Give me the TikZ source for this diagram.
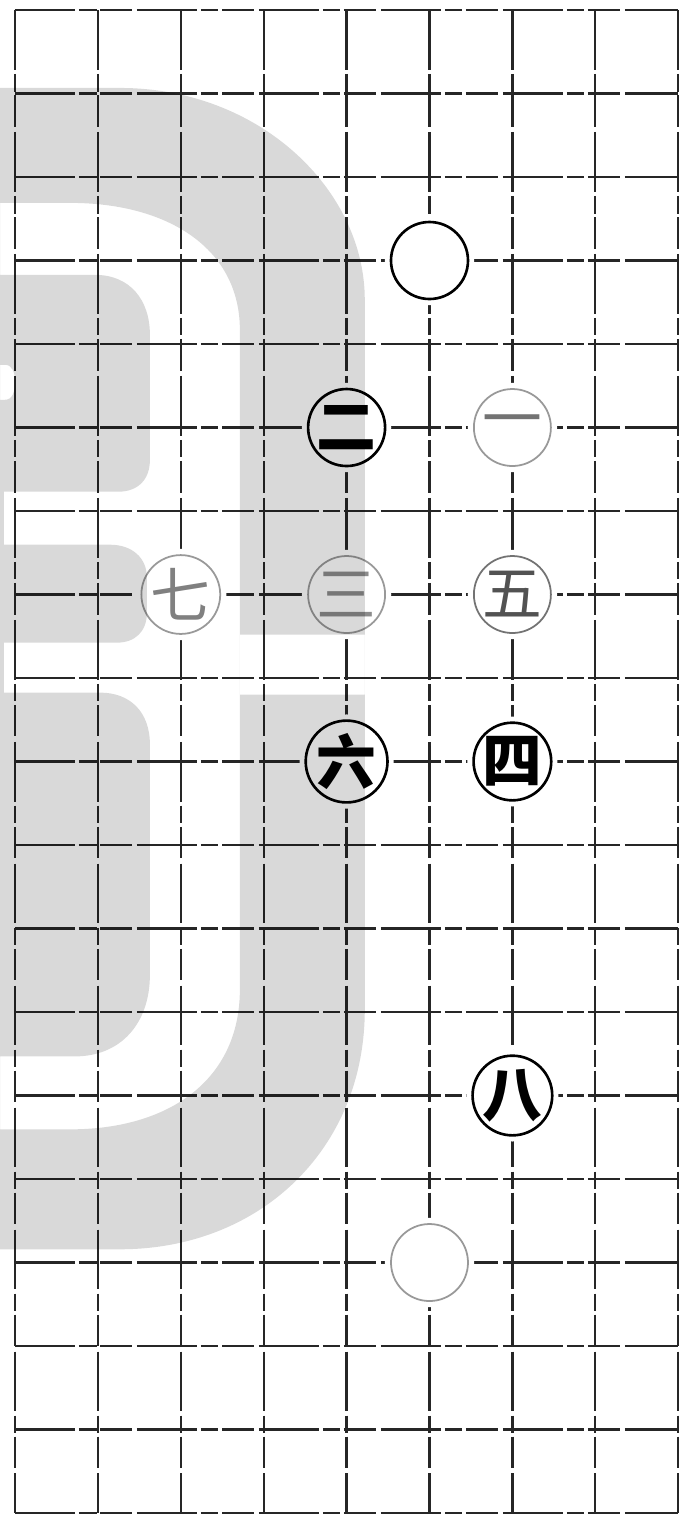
\documentclass[tikz,border=0pt]{standalone}
\usepackage{fontspec}
\newfontfamily\cjk{Noto Sans CJK SC}
\tikzset{
  board/.style={line width=0.65pt, black!85, dash pattern=on 17pt off 1.2pt on 5pt off 1pt on 9pt off 1.5pt},
  bstone/.style={circle, draw, line width=0.75pt, fill=white, minimum size=0.77cm, inner sep=0pt,
    preaction={draw=white, line width=3.5pt},
    font=\cjk\bfseries\fontsize{17}{17}\selectfont},
  wstone/.style={bstone, draw=black!40, line width=0.5pt, text=black!55,
    font=\cjk\fontsize{17}{17}\selectfont},
  wmark/.style={fill=black, opacity=0.15, even odd rule},
}
\begin{document}
\begin{tikzpicture}[x=0.829cm, y=-0.835cm]
    \useasboundingbox[fill=white] (-0.15cm,0.10cm) rectangle (6.73cm,-15.13cm);
    % board
    \foreach \i in {0,...,8}
      \draw[board] (\i,0) -- (\i,18);
    \foreach \j in {0,...,18}
      \draw[board] (0,\j) -- (8,\j);
    % stones
    \node[bstone] (s0) at (5,3) {};
    \node[wstone] (s1) at (6,5) {一};
    \node[bstone] (s2) at (4,5) {二};
    \node[wstone, text=black!45] (s3) at (4,7) {三};
    \node[bstone] (s4) at (6,9) {四};
    \node[wstone, draw=black!55, text=black!68] (s5) at (6,7) {五};
    \node[bstone] (s6) at (4,9) {六};
    \node[wstone, text=black!50] (s7) at (2,7) {七};
    \node[bstone] (s8) at (6,13) {八};
    \node[wstone] (s9) at (5,15) {};
    % watermark
    \begin{scope}[x=0.01cm, y=-0.01cm, shift={(-0.15cm,0.10cm)}]
      \fill[wmark]
        (0,88) -- (120,88) .. controls (260,88) and (365,190) .. (365,300)
          -- (365,1010) .. controls (365,1150) and (260,1250) .. (120,1250) -- (0,1250) -- cycle
        (0,203) -- (70,203) .. controls (170,203) and (240,250) .. (240,330)
          -- (240,990) .. controls (240,1080) and (170,1130) .. (70,1130) -- (0,1130) -- cycle
        (240,635) rectangle (365,695)
        (0,275) -- (95,275) .. controls (130,275) and (150,300) .. (150,335)
          -- (150,460) .. controls (150,480) and (138,492) .. (118,492) -- (0,492) -- cycle
        (0,545) -- (110,545) .. controls (132,545) and (147,558) .. (147,578)
          -- (147,613) .. controls (147,632) and (135,643) .. (117,643) -- (0,643) -- cycle
        (0,693) -- (100,693) .. controls (130,693) and (150,712) .. (150,745)
          -- (150,975) .. controls (150,1025) and (120,1057) .. (75,1057) -- (0,1057) -- cycle
        (0,492) rectangle (4,545)
        (0,643) rectangle (4,693)
        (0,365) -- (5,365) .. controls (12,365) and (15,372) .. (15,382)
          .. controls (15,393) and (12,400) .. (5,400) -- (0,400) -- cycle;
    \end{scope}
  \end{tikzpicture}
\end{document}
